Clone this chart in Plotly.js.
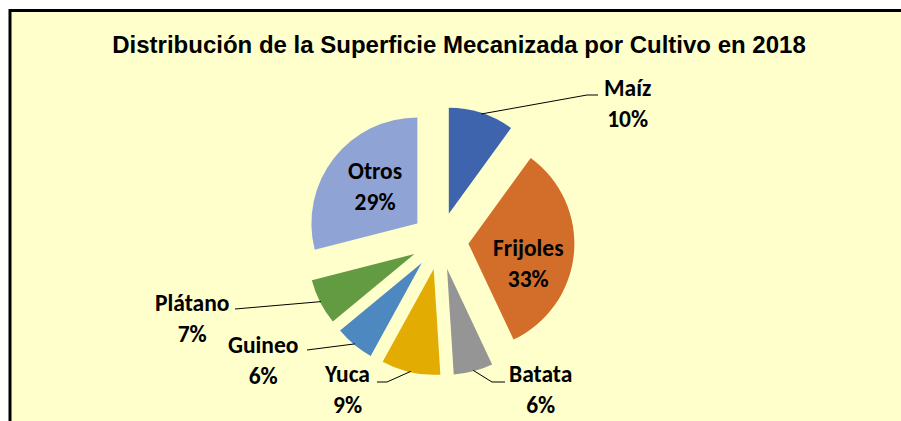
<!DOCTYPE html>
<html>
<head>
<meta charset="utf-8">
<script src="https://cdn.plot.ly/plotly-3.0.1.min.js"></script>
<style>html,body{margin:0;padding:0;background:#fff;}#chart{width:901px;height:421px;}</style>
</head>
<body>
<div id="chart"></div>
<script>
// ---- data ----
var cultivos = ['Maíz', 'Frijoles', 'Batata', 'Yuca', 'Guineo', 'Plátano', 'Otros'];
var superficie = [10, 33, 6, 9, 6, 7, 29];
var colores = ['#3D64AC', '#D36E2A', '#959595', '#E2AC03', '#4E88C0', '#629B42', '#8FA4D5'];
var titulo = 'Distribución de la Superficie Mecanizada por Cultivo en 2018';

// ---- layout constants ----
var W = 901, H = 421;
var PULL = 0.27;
var domX = [0.33896, 0.63762];
var domY = [0.10784, 0.74727];
var labelFont = {family: 'Carlito, Lato, sans-serif', size: 23.5, color: '#000'};
// label placement (pixels): text centre + leader elbow points (null = inside label)
var labelPlace = [
  {t: [627, 103], pts: [[587, 95], [598, 95]]},
  {t: [528, 263], pts: null},
  {t: [540, 389], pts: [[492, 382], [505, 382]]},
  {t: [347, 389], pts: [[387, 382], [377, 382]]},
  {t: [263, 360], pts: [[307, 350]]},
  {t: [192, 318], pts: [[235, 309]]},
  {t: [375, 187], pts: null}
];

function px(x) { return x / W; }
function py(y) { return 1 - y / H; }

// pie geometry as Plotly computes it
var boxW = W * (domX[1] - domX[0]), boxH = H * (domY[1] - domY[0]);
var r = Math.min(boxW, boxH) / 2 / (1 + PULL);
var cx = W * (domX[0] + domX[1]) / 2;
var cy = H * (1 - domY[0]) - boxH / 2;
var total = superficie.reduce(function (a, b) { return a + b; }, 0);

var shapes = [{
  type: 'rect', xref: 'paper', yref: 'paper', layer: 'below',
  x0: px(10), x1: px(W + 20), y0: py(H + 20), y1: py(10.5),
  fillcolor: '#FFFFCC', line: {color: '#000', width: 3}
}];
var annotations = [];
var cum = 0;
for (var i = 0; i < superficie.length; i++) {
  var mid = (cum + superficie[i] / 2) / total;
  cum += superficie[i];
  var th = 2 * Math.PI * mid;
  var ux = Math.sin(th), uy = -Math.cos(th);
  var lp = labelPlace[i];
  if (lp.pts) {
    var sx = cx + (r * (1 + PULL) - 1) * ux, sy = cy + (r * (1 + PULL) - 1) * uy;
    var path = 'M' + px(sx) + ',' + py(sy);
    lp.pts.forEach(function (p) { path += ' L' + px(p[0]) + ',' + py(p[1]); });
    shapes.push({type: 'path', xref: 'paper', yref: 'paper', layer: 'above', path: path,
      line: {color: '#000', width: 1}});
  }
  annotations.push({
    xref: 'paper', yref: 'paper', x: px(lp.t[0]), y: py(lp.t[1]),
    xanchor: 'center', yanchor: 'middle', showarrow: false, align: 'center',
    text: '<b>' + cultivos[i] + '<br>' + Math.round(superficie[i] / total * 100) + '%</b>',
    font: labelFont
  });
}

var trace = {
  type: 'pie',
  labels: cultivos,
  values: superficie,
  sort: false,
  direction: 'clockwise',
  rotation: 0,
  pull: superficie.map(function () { return PULL; }),
  marker: {colors: colores, line: {width: 0}},
  textinfo: 'none',
  hoverinfo: 'label+percent',
  domain: {x: domX, y: domY},
  showlegend: false
};

var layout = {
  width: W, height: H,
  margin: {l: 0, r: 0, t: 0, b: 0},
  paper_bgcolor: '#FFFFFF',
  showlegend: false,
  title: {
    text: '<b>' + titulo + '</b>',
    font: {family: 'Liberation Sans, Arial, sans-serif', size: 24, color: '#000'},
    x: px(459), xanchor: 'center', y: py(45), yanchor: 'middle', xref: 'paper', yref: 'paper'
  },
  shapes: shapes,
  annotations: annotations
};

Plotly.newPlot('chart', [trace], layout, {displayModeBar: false, staticPlot: true});
</script>
</body>
</html>
